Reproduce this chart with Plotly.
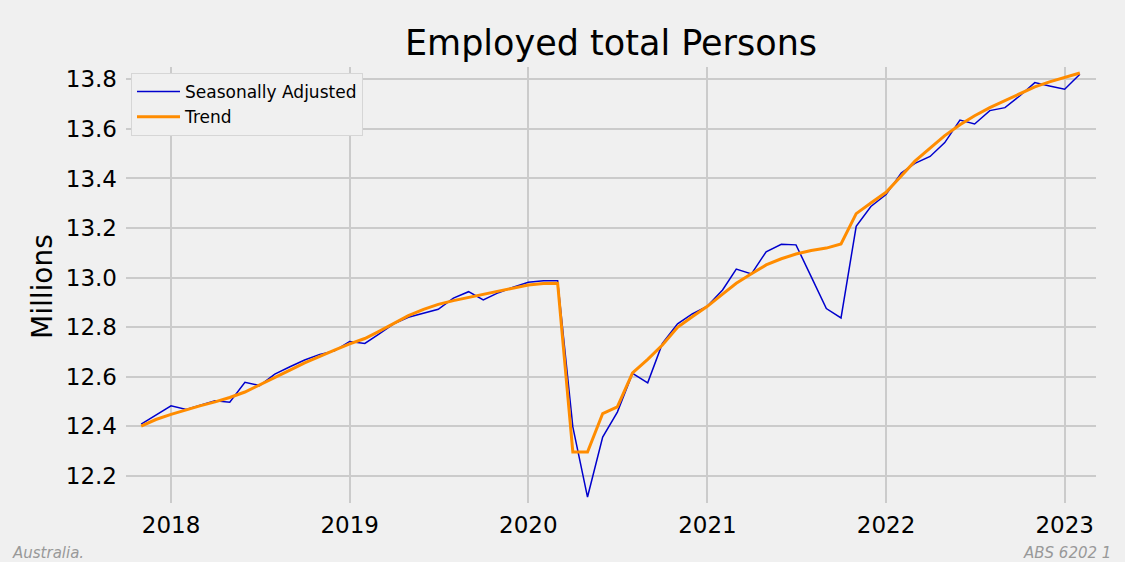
import pandas as pd
import plotly.graph_objects as go

# Monthly dates, Nov 2017 .. Feb 2023
months = pd.date_range("2017-11-01", "2023-02-01", freq="MS")

seasonally_adjusted = [
    12.408, 12.444,
    12.482, 12.468, 12.485, 12.503, 12.497, 12.577, 12.564, 12.610, 12.640, 12.667, 12.690, 12.704,
    12.742, 12.734, 12.771, 12.813, 12.840, 12.856, 12.872, 12.917, 12.943, 12.910, 12.939, 12.961,
    12.981, 12.987, 12.987, 12.397, 12.114, 12.356, 12.457, 12.613, 12.575, 12.734, 12.813, 12.853,
    12.885, 12.950, 13.034, 13.015, 13.104, 13.134, 13.132, 13.004, 12.875, 12.837, 13.207, 13.287,
    13.335, 13.422, 13.461, 13.489, 13.545, 13.636, 13.620, 13.674, 13.686, 13.733, 13.787, 13.773,
    13.760, 13.821,
]

trend = [
    12.400, 12.427,
    12.448, 12.467, 12.482, 12.498, 12.516, 12.538, 12.566, 12.595, 12.626, 12.656, 12.683, 12.707,
    12.732, 12.754, 12.782, 12.815, 12.846, 12.872, 12.892, 12.907, 12.920, 12.933, 12.947, 12.960,
    12.970, 12.976, 12.977, 12.296, 12.296, 12.451, 12.478, 12.615, 12.670, 12.728, 12.799, 12.842,
    12.884, 12.933, 12.977, 13.015, 13.051, 13.076, 13.095, 13.109, 13.119, 13.136, 13.258, 13.301,
    13.344, 13.410, 13.470, 13.523, 13.573, 13.617, 13.653, 13.686, 13.714, 13.743, 13.770, 13.790,
    13.808, 13.826,
]

y_ticks = [12.2, 12.4, 12.6, 12.8, 13.0, 13.2, 13.4, 13.6, 13.8]
y_tick_labels = ["12.2", "12.4", "12.6", "12.8", "13.0", "13.2", "13.4", "13.6", "13.8"]
x_ticks = ["2018-01-01", "2019-01-01", "2020-01-01", "2021-01-01", "2022-01-01", "2023-01-01"]
x_tick_labels = ["2018", "2019", "2020", "2021", "2022", "2023"]

title = "Employed total Persons"
y_label = "Millions"
left_note = "Australia."
right_note = "ABS 6202 1"

BG = "#f0f0f0"
GRID = "#cbcbcb"
FONT = "DejaVu Sans"

W, H = 1125, 562
ML, MR, MT, MB = 126, 29, 67, 59
pw, ph = W - ML - MR, H - MT - MB

fig = go.Figure()
fig.add_trace(go.Scatter(x=months, y=seasonally_adjusted, mode="lines",
                         name="Seasonally Adjusted",
                         line=dict(color="#0000cd", width=1.5)))
fig.add_trace(go.Scatter(x=months, y=trend, mode="lines", name="Trend",
                         line=dict(color="#ff8c00", width=3)))

fig.update_layout(
    width=W, height=H,
    paper_bgcolor=BG, plot_bgcolor=BG,
    margin=dict(l=ML, r=MR, t=MT, b=MB),
    font=dict(family=FONT, color="#000000"),
    title=dict(text=title, x=0.5, xref="paper", xanchor="center",
               y=1 - 43 / H, yref="container", yanchor="middle",
               font=dict(size=35, family=FONT, color="#000000")),
    showlegend=True,
    legend=dict(x=(131 - ML) / pw, y=(H - MB - 73) / ph, xanchor="left", yanchor="top",
                bgcolor=BG, bordercolor="#d6d6d6", borderwidth=1,
                font=dict(size=17, family=FONT, color="#000000"),
                itemwidth=43, tracegroupgap=0),
    xaxis=dict(range=["2017-10-01", "2023-03-06"], tickvals=x_ticks,
               ticktext=x_tick_labels, showgrid=True, gridcolor=GRID,
               gridwidth=2, zeroline=False, showline=False, ticks="",
               tickfont=dict(size=23, family=FONT, color="#000000"),
               ticklabelstandoff=6),
    yaxis=dict(range=[12.09, 13.85], tickvals=y_ticks, ticktext=y_tick_labels,
               showgrid=True, gridcolor=GRID, gridwidth=2, zeroline=False,
               showline=False, ticks="",
               tickfont=dict(size=23, family=FONT, color="#000000"),
               ticklabelstandoff=8),
    annotations=[
        dict(text=y_label, textangle=-90, x=(42 - ML) / pw, xref="paper",
             y=(H - MB - 287) / ph, yref="paper",
             xanchor="center", yanchor="middle", showarrow=False,
             font=dict(size=28, family=FONT, color="#000000")),
        dict(text="<i>" + left_note + "</i>", x=(10 - ML) / pw, xref="paper",
             y=(H - MB - 553) / ph, yref="paper", xanchor="left", yanchor="middle",
             showarrow=False, font=dict(size=15, family=FONT, color="#999999")),
        dict(text="<i>" + right_note + "</i>", x=(1113 - ML) / pw, xref="paper",
             y=(H - MB - 553) / ph, yref="paper", xanchor="right", yanchor="middle",
             showarrow=False, font=dict(size=15, family=FONT, color="#999999")),
    ],
)

fig.write_html("out.html",
               config={"displayModeBar": False},
               post_script="document.body.style.margin='0';document.body.style.overflow='hidden';")
